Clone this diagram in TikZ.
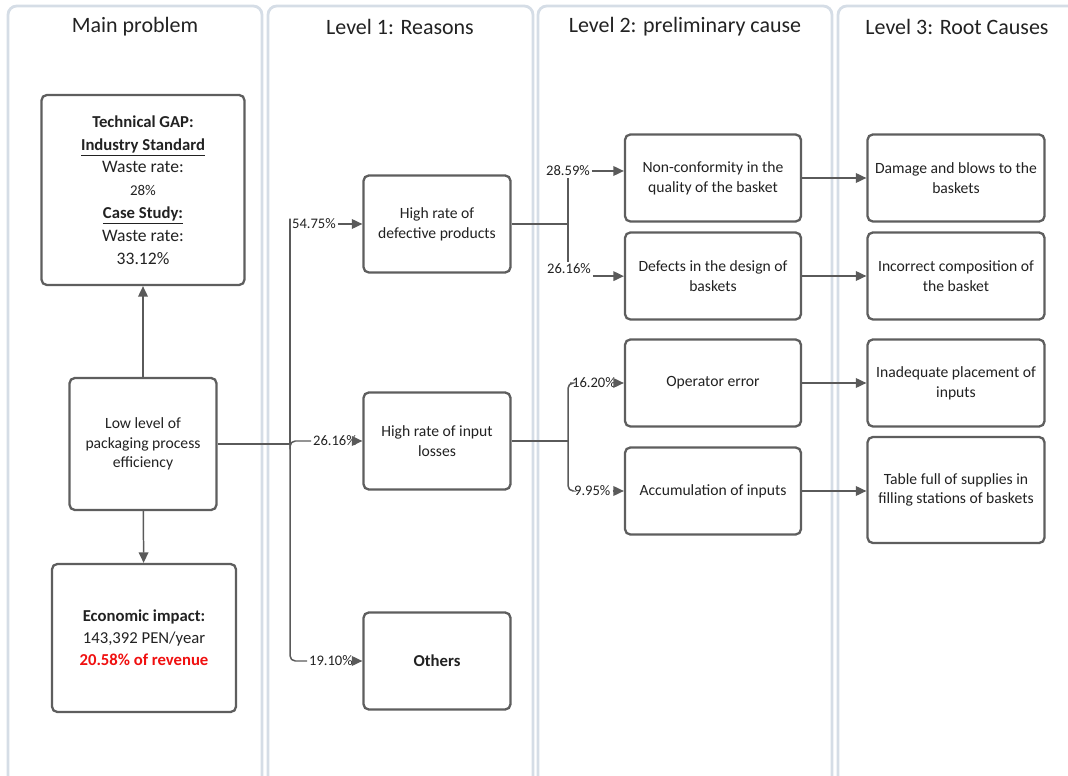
\documentclass[tikz,border=0pt]{standalone}
\usepackage{fontspec}
\setmainfont{Carlito}
\usepackage{tikz}
\usetikzlibrary{positioning, arrows.meta, calc}
\definecolor{lanegray}{HTML}{D5DDE6}
\definecolor{boxgray}{HTML}{5E5E5E}
\definecolor{linkgray}{HTML}{5A5A5A}
\definecolor{txtgray}{HTML}{222222}
\definecolor{alertred}{HTML}{F01010}
\tikzset{>={Triangle[length=6pt,width=5.5pt]}}

\begin{document}
\begin{tikzpicture}[x=0.02cm, y=-0.02cm,
    lane/.style={draw=lanegray, line width=1.6pt, rounded corners=5pt},
    lanetitle/.style={font=\fontsize{12.5}{14}\selectfont, text=txtgray},
    box/.style={draw=boxgray, line width=1.3pt, rounded corners=3pt, fill=white, align=center, text=txtgray, font=\fontsize{8.9}{11.2}\selectfont, inner sep=2pt},
    reasonbox/.style={box, minimum width=2.94cm, minimum height=1.94cm},
    causebox/.style={box, minimum width=3.52cm, minimum height=1.74cm},
    rootbox/.style={box, minimum width=3.54cm, minimum height=1.74cm},
    pct/.style={font=\fontsize{8.3}{10}\selectfont, text=txtgray, inner sep=1pt},
    link/.style={draw=linkgray, line width=0.85pt, rounded corners=3pt}
]
    \useasboundingbox (0,0) rectangle (1068,776);
    \clip (0,0) rectangle (1068,776);

    % swimlanes
    \draw[lane] (8,6) rectangle (262,800);
    \draw[lane] (268,6) rectangle (533,800);
    \draw[lane] (538,6) rectangle (832,800);
    \draw[lane] (838,6) rectangle (1090,800);
    \node[lanetitle] (t0) at (135,27) {Main problem};
    \node[lanetitle] (t1) at (400,27) {Level 1: Reasons};
    \node[lanetitle] (t2) at (685,27) {Level 2: preliminary cause};
    \node[lanetitle] (t3) at (957,27) {Level 3: Root Causes};

    % main problem
    \node[box, minimum width=4.06cm, minimum height=3.8cm, font=\fontsize{9.5}{13}\selectfont] (gap) at (143,190) {%
        \textbf{Technical GAP:}\\
        \textbf{\underline{Industry Standard}}\\
        {\fontsize{10}{13}\selectfont Waste rate:}\\
        {\fontsize{8.5}{11.5}\selectfont 28\%}\\
        \textbf{\underline{Case Study:}}\\
        {\fontsize{10}{13.5}\selectfont Waste rate:}\\
        {\fontsize{10}{12.5}\selectfont 33.12\%}};
    \node[box, minimum width=2.94cm, minimum height=2.64cm] (low) at (143,444) {Low level of\\packaging process\\efficiency};
    \node[box, minimum width=3.68cm, minimum height=2.96cm, font=\fontsize{9.5}{12.5}\selectfont] (econ) at (144,638) {%
        \textbf{Economic impact:}\\
        143,392 PEN/year\\
        \textcolor{alertred}{\textbf{20.58\% of revenue}}};

    % level 1
    \node[reasonbox] (defect) at (437,224) {High rate of\\defective products};
    \node[reasonbox] (input) at (437,441) {High rate of input\\losses};
    \node[reasonbox, font=\fontsize{9.5}{12}\selectfont\bfseries] (others) at (437,661) {Others};

    % level 2
    \node[causebox] (nonconf) at (713,178) {Non-conformity in the\\quality of the basket};
    \node[causebox] (design) at (713,276) {Defects in the design of\\baskets};
    \node[causebox] (oper) at (713,383) {Operator error};
    \node[causebox] (accum) at (713,491) {Accumulation of inputs};

    % level 3
    \node[rootbox] (damage) at (956,178) {Damage and blows to the\\baskets};
    \node[rootbox] (compo) at (956,276) {Incorrect composition of\\the basket};
    \node[rootbox] (place) at (956,383) {Inadequate placement of\\inputs};
    \node[rootbox, minimum height=2.12cm] (table) at (956,490) {Table full of supplies in\\filling stations of baskets};

    % main problem links
    \draw[link,->] (low) -- (gap);
    \draw[link,->] (low) -- (econ);

    % main problem to level 1
    \coordinate (j1) at (290,444);
    \node[pct, anchor=west] (p1) at (290,224) {54.75\%};
    \node[pct, anchor=west] (p2) at (311,441) {26.16\%};
    \node[pct, anchor=west] (p3) at (307,661) {19.10\%};
    \draw[link] (low.east) -- (j1);
    \draw[link] (j1) |- (p1.west);
    \draw[link] (j1) |- (p2.west);
    \draw[link] (j1) |- (p3.west);
    \draw[link,->] (p1.east) -- (p1.east -| defect.west);
    \draw[link,->] (p2.east) -- (p2.east -| input.west);
    \draw[link,->] (p3.east) -- (p3.east -| others.west);

    % level 1 to level 2
    \coordinate (j2) at (568,224);
    \coordinate (j3) at (568,441);
    \node[pct] (p4) at (568,171) {28.59\%};
    \node[pct] (p5) at (569,269) {26.16\%};
    \node[pct, anchor=west] (p6) at (570,383) {16.20\%};
    \node[pct, anchor=west] (p7) at (572,491) {9.95\%};
    \draw[link] (defect.east) -- (j2);
    \draw[link] (j2) -- (p4.south -| j2);
    \draw[link] (j2) -- (p5.north -| j2);
    \draw[link,->] (p4.east) -- (p4.east -| nonconf.west);
    \draw[link,->] (p5.south east) -- (p5.south east -| design.west);
    \draw[link] (input.east) -- (j3);
    \draw[link] (j3) |- (p6.west);
    \draw[link] (j3) |- (p7.west);
    \draw[link,->] (p6.east) -- (p6.east -| oper.west);
    \draw[link,->] (p7.east) -- (p7.east -| accum.west);

    % level 2 to level 3
    \draw[link,->] (nonconf) -- (damage);
    \draw[link,->] (design) -- (compo);
    \draw[link,->] (oper) -- (place);
    \draw[link,->] (accum) -- (table.west |- accum);
\end{tikzpicture}
\end{document}
